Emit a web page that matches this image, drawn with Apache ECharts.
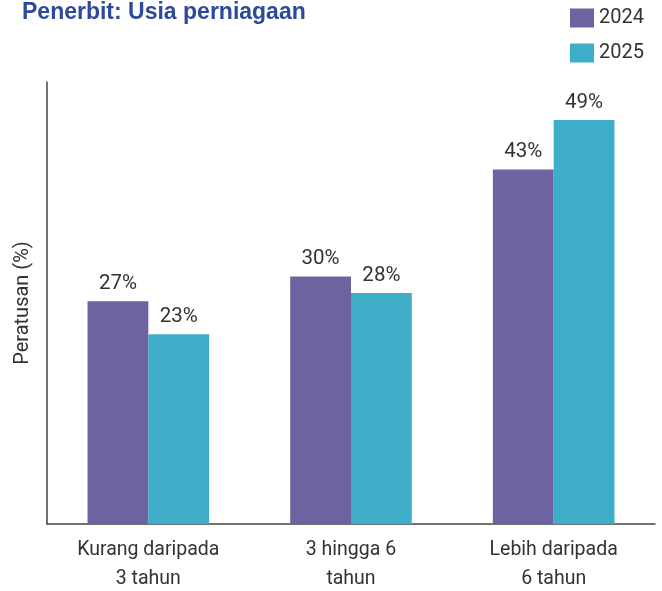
<!DOCTYPE html>
<html>
<head>
<meta charset="utf-8">
<script src="https://cdn.jsdelivr.net/npm/echarts@6/dist/echarts.min.js"></script>
<style>
  html, body { margin: 0; padding: 0; background: #fff; }
  #chart { width: 662px; height: 591px; }
</style>
</head>
<body>
<div id="chart"></div>
<script>
// data
var categories = ['Kurang daripada\n3 tahun', '3 hingga 6\ntahun', 'Lebih daripada\n6 tahun'];
var seriesNames = ['2024', '2025'];
var values2024 = [27, 30, 43];
var values2025 = [23, 28, 49];

var labelFont = "'Roboto', sans-serif";

var myChart = echarts.init(document.getElementById('chart'));
var option = {
  animation: false,
  title: {
    text: 'Penerbit: Usia perniagaan',
    left: 17,
    top: -4,
    textStyle: {
      color: '#2c4a9a',
      fontSize: 23,
      fontWeight: 'bold',
      fontFamily: "'Liberation Sans', Arial, sans-serif"
    }
  },
  color: ['#6f62a0', '#3eadc7'],
  legend: {
    data: seriesNames,
    orient: 'vertical',
    left: 565,
    top: 3,
    itemWidth: 24,
    itemHeight: 19,
    itemGap: 15,
    icon: 'rect',
    textStyle: { fontSize: 20, color: '#333', fontFamily: labelFont }
  },
  grid: {
    left: 47,
    right: 7,
    top: 82,
    bottom: 67,
    outerBoundsMode: 'none'
  },
  xAxis: {
    type: 'category',
    data: categories,
    axisLine: { lineStyle: { color: '#444', width: 1.5 } },
    axisTick: { show: false },
    axisLabel: {
      fontSize: 19.5,
      color: '#333',
      fontFamily: labelFont,
      lineHeight: 29,
      margin: 12
    }
  },
  yAxis: {
    type: 'value',
    min: 0,
    max: 53.6,
    name: 'Peratusan (%)',
    nameLocation: 'middle',
    nameRotate: 90,
    nameGap: 14,
    nameTextStyle: { fontSize: 20, color: '#333', fontFamily: labelFont },
    axisLine: { show: true, lineStyle: { color: '#444', width: 1.5 } },
    axisTick: { show: false },
    axisLabel: { show: false },
    splitLine: { show: false }
  },
  series: [
    {
      name: seriesNames[0],
      type: 'bar',
      data: values2024,
      barGap: '0%',
      barCategoryGap: '40%',
      label: {
        show: true,
        position: 'top',
        distance: 7,
        formatter: '{c}%',
        fontSize: 20.5,
        color: '#333',
        fontFamily: labelFont
      }
    },
    {
      name: seriesNames[1],
      type: 'bar',
      data: values2025,
      barGap: '0%',
      barCategoryGap: '40%',
      label: {
        show: true,
        position: 'top',
        distance: 7,
        formatter: '{c}%',
        fontSize: 20.5,
        color: '#333',
        fontFamily: labelFont
      }
    }
  ]
};
myChart.setOption(option);
</script>
</body>
</html>
